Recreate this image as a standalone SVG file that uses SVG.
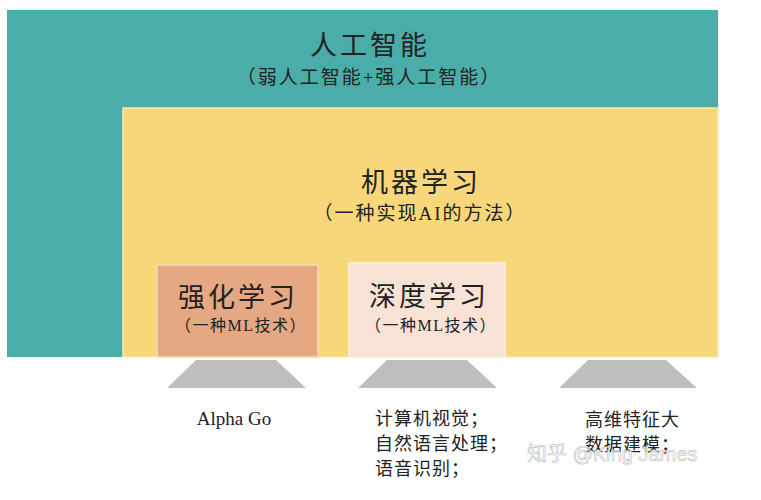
<svg xmlns="http://www.w3.org/2000/svg" width="761" height="500" viewBox="0 0 761 500">
<style>
.t{font-family:"Liberation Serif","Noto Sans CJK SC",serif;fill:#222;text-anchor:middle}
.big{font-size:27px;letter-spacing:3px}
.mid{font-size:19px;letter-spacing:2px}
.sm{font-size:16px;letter-spacing:1.5px}
.lst{font-family:"Liberation Serif","Noto Sans CJK SC",serif;fill:#222;font-size:18px;letter-spacing:1px}
.trap{fill:#BEBEBE}
</style>
<rect width="761" height="500" fill="#fff"/>
<g id="ai">
<rect x="7" y="10" width="711" height="347" fill="#4BADA9"/>
<text class="t big" x="370" y="55">人工智能</text>
<text class="t mid" x="369" y="84">（弱人工智能+强人工智能）</text>
</g>
<g id="ml">
<rect x="123" y="108" width="595" height="249" fill="#F8D77B" stroke="#FBE9B0" stroke-width="1.5"/>
<text class="t big" x="421" y="192">机器学习</text>
<text class="t mid" x="420" y="220">（一种实现AI的方法）</text>
</g>
<g id="rl">
<rect x="157" y="265" width="161" height="92" fill="#E6A882" stroke="#F6DDB0" stroke-width="1.5"/>
<text class="t big" x="238" y="307">强化学习</text>
<text class="t sm" x="241" y="331">（一种ML技术）</text>
</g>
<g id="dl">
<rect x="349" y="263" width="156" height="94" fill="#F8E2D5" stroke="#FBEFE5" stroke-width="1.5"/>
<text class="t big" x="429" y="306">深度学习</text>
<text class="t sm" x="431" y="331">（一种ML技术）</text>
</g>
<g id="connectors">
<polygon class="trap" points="196,360 276,360 306,388 167,388"/>
<polygon class="trap" points="387,360 467,360 497,388 358,388"/>
<polygon class="trap" points="588,360 666,360 697,388 559,388"/>
</g>
<g id="app1">
<text class="t" style="font-size:19px" x="234" y="425">Alpha Go</text>
</g>
<g id="app2">
<text class="lst" x="375" y="425">计算机视觉；</text>
<text class="lst" x="375" y="450">自然语言处理；</text>
<text class="lst" x="375" y="475">语音识别；</text>
</g>
<g id="app3">
<text class="lst" x="585" y="426">高维特征大</text>
<text class="lst" x="585" y="451">数据建模；</text>
</g>
<text x="527" y="461" style="font-family:'Liberation Sans','Noto Sans CJK SC',sans-serif;font-size:20px;fill:#fff;fill-opacity:0.75;stroke:#bbb;stroke-width:0.6">知乎 @King James</text>
</svg>
